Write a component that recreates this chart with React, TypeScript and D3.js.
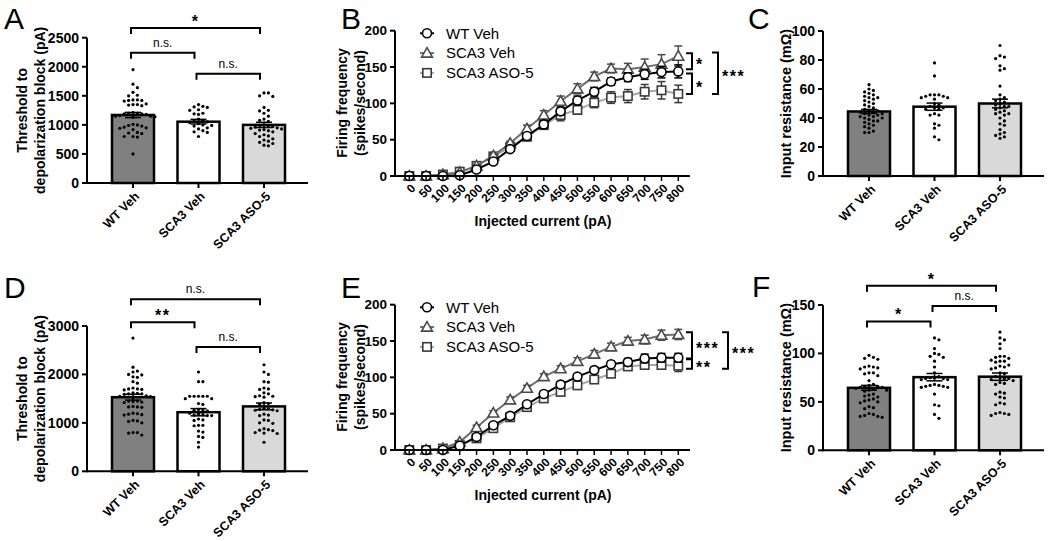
import React from 'react';
import * as d3 from 'd3';

const FONT = "'Liberation Sans', Arial, Helvetica, sans-serif";

// ---------- categories ----------
const groups = ['WT Veh', 'SCA3 Veh', 'SCA3 ASO-5'];
const barFills = ['#808080', '#ffffff', '#d9d9d9'];
const currents = ['0', '50', '100', '150', '200', '250', '300', '350', '400', '450', '500', '550', '600', '650', '700', '750', '800'];

// ---------- Panel A: threshold to depolarization block (pA) ----------
const aTicks = [0, 500, 1000, 1500, 2000, 2500];
const aMeans = [1170, 1055, 1000];
const aSem = [45, 40, 45];
const aWT = [1950, 1700, 1640, 1560, 1510, 1500, 1430, 1430, 1420, 1420, 1410, 1360, 1350, 1350, 1340, 1330, 1210, 1200, 1200, 1190, 1190, 1180, 1160, 1150, 1150, 1140, 1130, 1010, 1000, 990, 980, 960, 950, 940, 920, 870, 860, 850, 800, 800, 790, 500];
const aVeh = [1350, 1320, 1310, 1300, 1260, 1250, 1200, 1190, 1180, 1100, 1080, 1060, 1050, 1040, 1020, 1000, 990, 980, 950, 930, 900, 880, 870, 800];
const aASO = [1550, 1550, 1500, 1490, 1300, 1250, 1240, 1200, 1150, 1100, 1080, 1060, 1000, 990, 980, 970, 960, 950, 940, 930, 920, 910, 900, 880, 850, 830, 810, 800, 760, 740, 720, 700, 680, 650, 640];

// ---------- Panel C: input resistance ----------
const cTicks = [0, 20, 40, 60, 80, 100];
const cMeans = [44.5, 47.8, 50];
const cSem = [1.4, 2.5, 3];
const cWT = [63, 60, 59, 58, 57, 56, 55, 54, 54, 53, 52, 51, 50, 49, 48, 47, 46, 45, 45, 44, 44, 43, 43, 42, 42, 41, 41, 40, 40, 39, 38, 38, 37, 36, 35, 34, 33, 31, 30, 30];
const cVeh = [78, 69, 56, 56, 56, 55, 55, 54, 54, 53, 50, 49, 48, 47, 47, 46, 46, 43, 42, 42, 36, 35, 33, 27, 25];
const cASO = [90, 83, 82, 81, 76, 74, 73, 62, 56, 54, 53, 52, 51, 50, 49, 48, 48, 47, 46, 45, 44, 43, 43, 42, 40, 38, 36, 35, 32, 30, 29, 28, 27, 26];

// ---------- Panel D ----------
const dTicks = [0, 1000, 2000, 3000];
const dMeans = [1530, 1220, 1340];
const dSem = [60, 75, 70];
const dWT = [2750, 2150, 2070, 2050, 2000, 1990, 1950, 1940, 1850, 1820, 1720, 1700, 1700, 1690, 1680, 1620, 1610, 1600, 1600, 1590, 1560, 1550, 1540, 1530, 1450, 1450, 1440, 1430, 1420, 1340, 1330, 1330, 1320, 1200, 1190, 1180, 1170, 1160, 1050, 1040, 1030, 1000, 800, 800, 790, 750];
const dVeh = [2050, 1850, 1850, 1550, 1550, 1550, 1550, 1550, 1500, 1500, 1400, 1380, 1280, 1270, 1260, 1250, 1200, 1180, 1170, 1160, 1150, 1150, 1080, 1060, 1050, 950, 950, 940, 830, 810, 720, 700, 600, 500];
const dASO = [2200, 2050, 2000, 1850, 1840, 1720, 1700, 1690, 1620, 1600, 1560, 1550, 1540, 1530, 1420, 1400, 1380, 1300, 1290, 1280, 1270, 1260, 1250, 1180, 1160, 1150, 1060, 1050, 1000, 990, 880, 860, 850, 840, 800, 790, 780, 600];

// ---------- Panel F ----------
const fTicks = [0, 50, 100, 150];
const fMeans = [64.5, 75.5, 76];
const fSem = [2.5, 3.8, 3.8];
const fWT = [98, 96, 95, 94, 87, 86, 86, 85, 84, 80, 80, 79, 77, 72, 68, 67, 66, 66, 65, 65, 64, 63, 62, 62, 61, 58, 57, 56, 55, 53, 52, 51, 50, 49, 45, 44, 43, 38, 37, 36, 35, 35, 34];
const fVeh = [116, 114, 105, 100, 99, 97, 96, 92, 86, 80, 76, 75, 75, 74, 74, 73, 73, 68, 67, 67, 66, 66, 65, 65, 58, 47, 46, 37, 33];
const fASO = [122, 116, 114, 110, 105, 97, 97, 96, 95, 93, 92, 92, 91, 88, 87, 86, 85, 84, 80, 79, 76, 75, 74, 74, 73, 72, 70, 69, 68, 60, 59, 58, 55, 54, 49, 48, 47, 39, 38, 38, 37, 36];

// ---------- Panel B: firing frequency ----------
const freqTicks = [0, 50, 100, 150, 200];
const bWT = [0, 0, 0, 1, 9, 20, 37, 55, 71, 89, 104, 116, 130, 136, 140, 143, 144];
const bWTErr = [0, 0, 0, 1, 2, 2, 3, 4, 5, 5, 6, 6, 5, 6, 7, 8, 9];
const bVeh = [0, 0, 2, 5, 14, 28, 45, 65, 84, 103, 120, 137, 148, 147, 150, 154, 165];
const bVehErr = [0, 0, 1, 1, 2, 3, 3, 5, 6, 7, 7, 6, 6, 8, 11, 13, 14];
const bASO = [0, 0, 2, 6, 14, 27, 40, 54, 70, 84, 91, 101, 108, 110, 116, 118, 113];
const bASOErr = [0, 0, 1, 2, 2, 3, 3, 4, 5, 8, 6, 7, 8, 9, 10, 12, 12];

// ---------- Panel E ----------
const eWT = [0, 0, 0, 6, 18, 34, 47, 63, 77, 90, 101, 110, 118, 121, 126, 127, 127];
const eWTErr = [0, 0, 1, 1, 2, 3, 3, 3, 4, 4, 4, 4, 4, 5, 6, 6, 6];
const eVeh = [0, 0, 2, 11, 31, 51, 69, 85, 101, 112, 122, 132, 142, 150, 152, 158, 159];
const eVehErr = [0, 0, 1, 2, 3, 3, 4, 4, 4, 4, 5, 5, 5, 5, 6, 7, 7];
const eASO = [0, 0, 2, 7, 16, 30, 45, 59, 71, 80, 89, 97, 105, 115, 117, 117, 116];
const eASOErr = [0, 0, 1, 1, 2, 2, 3, 3, 3, 3, 3, 3, 4, 4, 5, 5, 8];

// ---------- significance ----------
const aBrackets = [
  { a: 0, b: 2, v: 2665, label: '*' },
  { a: 0, b: 1, v: 2240, label: 'n.s.' },
  { a: 1, b: 2, v: 1880, label: 'n.s.' },
];
const dBrackets = [
  { a: 0, b: 2, v: 3550, label: 'n.s.' },
  { a: 0, b: 1, v: 3077, label: '**' },
  { a: 1, b: 2, v: 2567, label: 'n.s.' },
];
const fBrackets = [
  { a: 0, b: 2, v: 170, label: '*' },
  { a: 1, b: 2, v: 149, label: 'n.s.' },
  { a: 0, b: 1, v: 133, label: '*' },
];
const bSig = [
  { v1: 169, v2: 147, dx: 0, label: '*' },
  { v1: 141, v2: 113, dx: 0, label: '*' },
  { v1: 170, v2: 113, dx: 26, label: '***' },
];
const eSig = [
  { v1: 162, v2: 126, dx: 0, label: '***' },
  { v1: 125, v2: 112, dx: 0, label: '**' },
  { v1: 162, v2: 112, dx: 36, label: '***' },
];

function beeswarm(vals: number[], y: (v: number) => number, cx: number, d = 4.4) {
  const pts = vals.map((v) => ({ v, py: y(v) })).sort((a, b) => a.py - b.py);
  const placed: { x: number; y: number }[] = [];
  for (const p of pts) {
    for (let k = 0; k < 60; k++) {
      const off = k === 0 ? 0 : (k % 2 === 1 ? 1 : -1) * Math.ceil(k / 2) * d;
      const x = cx + off;
      if (placed.every((q) => (q.x - x) ** 2 + (q.y - p.py) ** 2 >= (d * 0.95) ** 2)) {
        placed.push({ x, y: p.py });
        break;
      }
    }
  }
  return placed;
}

type BarProps = {
  x0: number; yBase: number; yTop: number; max: number; ticks: number[];
  means: number[]; sems: number[]; dots: number[][];
  brackets: { a: number; b: number; v: number; label: string }[];
  titles: string[]; titleXs: number[]; titleSize: number;
};

function BarPanel(p: BarProps) {
  const y = d3.scaleLinear().domain([0, p.max]).range([p.yBase, p.yTop]);
  const x = d3.scalePoint<string>().domain(groups).range([p.x0 + 46, p.x0 + 177]);
  const bw = 42;
  const axisEnd = p.x0 + 221;
  const midY = (p.yBase + p.yTop) / 2;
  return (
    <g>
      {groups.map((g, i) => {
        const cx = x(g)!;
        const pts = beeswarm(p.dots[i], y, cx);
        const top = y(p.means[i]);
        const hi = y(p.means[i] + p.sems[i]);
        const lo = y(p.means[i] - p.sems[i]);
        return (
          <g key={g}>
            <rect x={cx - bw / 2} y={top} width={bw} height={p.yBase - top} fill={barFills[i]} stroke="#000" strokeWidth={2.5} />
            {pts.map((q, j) => <circle key={j} cx={q.x} cy={q.y} r={1.6} fill="#000" />)}
            <line x1={cx} x2={cx} y1={hi} y2={lo} stroke="#000" strokeWidth={1.5} />
            <line x1={cx - 8} x2={cx + 8} y1={hi} y2={hi} stroke="#000" strokeWidth={1.5} />
            <line x1={cx - 8} x2={cx + 8} y1={lo} y2={lo} stroke="#000" strokeWidth={1.5} />
            <line x1={cx} x2={cx} y1={p.yBase} y2={p.yBase + 5} stroke="#000" strokeWidth={2} />
            <text transform={`translate(${cx + 4},${p.yBase + 11}) rotate(-45)`} textAnchor="end" dy="0.35em"
              fontFamily={FONT} fontWeight="bold" fontSize={12.5}>{g}</text>
          </g>
        );
      })}
      <line x1={p.x0} x2={axisEnd} y1={p.yBase} y2={p.yBase} stroke="#000" strokeWidth={2} />
      <line x1={p.x0} x2={p.x0} y1={p.yBase + 1} y2={p.yTop} stroke="#000" strokeWidth={2} />
      {p.ticks.map((t) => (
        <g key={t}>
          <line x1={p.x0 - 5} x2={p.x0} y1={y(t)} y2={y(t)} stroke="#000" strokeWidth={2} />
          <text x={p.x0 - 8} y={y(t)} dy="0.35em" textAnchor="end" fontFamily={FONT} fontWeight="bold" fontSize={14}>{t}</text>
        </g>
      ))}
      {p.titles.map((t, i) => (
        <text key={t} transform={`translate(${p.titleXs[i]},${midY}) rotate(-90)`} textAnchor="middle" dy="0.35em"
          fontFamily={FONT} fontWeight="bold" fontSize={p.titleSize}>{t}</text>
      ))}
      {p.brackets.map((b, i) => {
        const xa = x(groups[b.a])! - 2;
        const xb = x(groups[b.b])! - 4;
        const yy = y(b.v);
        const ns = b.label === 'n.s.';
        return (
          <g key={i}>
            <path d={`M${xa},${yy + 6}V${yy}H${xb}V${yy + 6}`} fill="none" stroke="#000" strokeWidth={2} />
            <text x={(xa + xb) / 2} y={ns ? yy - 6 : yy - 1} textAnchor="middle" fontFamily={FONT}
              fontWeight={ns ? 'normal' : 'bold'} fontSize={ns ? 12 : 16} letterSpacing={ns ? 0 : 1.5}>{b.label}</text>
          </g>
        );
      })}
    </g>
  );
}

type Series = { vals: number[]; err: number[]; line: string; mark: string; shape: 'circle' | 'triangle' | 'square'; name: string };

function Marker({ shape, cx, cy, color }: { shape: string; cx: number; cy: number; color: string }) {
  if (shape === 'circle') return <circle cx={cx} cy={cy} r={4.5} fill="#fff" stroke={color} strokeWidth={1.6} />;
  if (shape === 'square') return <rect x={cx - 4.2} y={cy - 4.2} width={8.4} height={8.4} fill="#fff" stroke={color} strokeWidth={1.6} />;
  const s = 5.4;
  return <path d={`M${cx},${cy - s}L${cx + s},${cy + s * 0.75}L${cx - s},${cy + s * 0.75}Z`} fill="#fff" stroke={color} strokeWidth={1.6} />;
}

function LinePanel({ oy, series, sig }: { oy: number; series: Series[]; sig: { v1: number; v2: number; dx: number; label: string }[] }) {
  const y = d3.scaleLinear().domain([0, 200]).range([176 + oy, 30.7 + oy]);
  const x = d3.scalePoint<string>().domain(currents).range([409.3, 678.3]);
  const x0 = 395;
  const line = d3.line<number>().x((_, i) => x(currents[i])!).y((v) => y(v));
  const drawOrder = [2, 1, 0];
  return (
    <g>
      {drawOrder.map((si) => {
        const s = series[si];
        return (
          <g key={s.name}>
            <path d={line(s.vals)!} fill="none" stroke={s.line} strokeWidth={2} />
            {s.vals.map((v, i) => {
              const cx = x(currents[i])!;
              const e = s.err[i];
              if (e <= 0) return null;
              const hi = y(v + e), lo = y(v - e);
              return (
                <g key={i}>
                  <line x1={cx} x2={cx} y1={hi} y2={lo} stroke={s.mark} strokeWidth={1.5} />
                  <line x1={cx - 4} x2={cx + 4} y1={hi} y2={hi} stroke={s.mark} strokeWidth={1.5} />
                  <line x1={cx - 4} x2={cx + 4} y1={lo} y2={lo} stroke={s.mark} strokeWidth={1.5} />
                </g>
              );
            })}
            {s.vals.map((v, i) => <Marker key={i} shape={s.shape} cx={x(currents[i])!} cy={y(v)} color={s.mark} />)}
          </g>
        );
      })}
      <line x1={x0} x2={690} y1={176 + oy} y2={176 + oy} stroke="#000" strokeWidth={2} />
      <line x1={x0} x2={x0} y1={177 + oy} y2={30.7 + oy} stroke="#000" strokeWidth={2} />
      {freqTicks.map((t) => (
        <g key={t}>
          <line x1={x0 - 5} x2={x0} y1={y(t)} y2={y(t)} stroke="#000" strokeWidth={2} />
          <text x={x0 - 8} y={y(t)} dy="0.35em" textAnchor="end" fontFamily={FONT} fontWeight="bold" fontSize={13.5}>{t}</text>
        </g>
      ))}
      {currents.map((c) => (
        <g key={c}>
          <line x1={x(c)!} x2={x(c)!} y1={176 + oy} y2={181 + oy} stroke="#000" strokeWidth={1.5} />
          <text transform={`translate(${x(c)! + 4},${186 + oy}) rotate(-45)`} textAnchor="end" dy="0.35em"
            fontFamily={FONT} fontWeight="bold" fontSize={12}>{c}</text>
        </g>
      ))}
      <text x={543} y={226 + oy} textAnchor="middle" fontFamily={FONT} fontWeight="bold" fontSize={14}>Injected current (pA)</text>
      {['Firing frequency', '(spikes/second)'].map((t, i) => (
        <text key={t} transform={`translate(${342 + i * 18},${103 + oy}) rotate(-90)`} textAnchor="middle" dy="0.35em"
          fontFamily={FONT} fontWeight="bold" fontSize={14}>{t}</text>
      ))}
      {series.map((s, i) => {
        const ly = 33.3 + oy + i * 19.8;
        return (
          <g key={s.name}>
            <line x1={420} x2={434} y1={ly} y2={ly} stroke={s.line} strokeWidth={2} />
            <Marker shape={s.shape} cx={427} cy={ly} color={s.mark} />
            <text x={446} y={ly} dy="0.35em" fontFamily={FONT} fontSize={15}>{s.name}</text>
          </g>
        );
      })}
      {sig.map((b, i) => {
        const bx = 692 + b.dx;
        const y1 = y(b.v1), y2 = y(b.v2);
        return (
          <g key={i}>
            <path d={`M${bx - 6},${y1}H${bx}V${y2}H${bx - 6}`} fill="none" stroke="#000" strokeWidth={2} />
            <text x={bx + 4} y={(y1 + y2) / 2 + 9} fontFamily={FONT} fontWeight="bold" fontSize={16} letterSpacing={1.5}>{b.label}</text>
          </g>
        );
      })}
    </g>
  );
}

const letterStyle = { fontFamily: FONT, fontSize: 30, fontWeight: 'normal' as const };

export default function App() {
  const bSeries: Series[] = [
    { vals: bWT, err: bWTErr, line: '#000000', mark: '#000000', shape: 'circle', name: 'WT Veh' },
    { vals: bVeh, err: bVehErr, line: '#6e6e6e', mark: '#4a4a4a', shape: 'triangle', name: 'SCA3 Veh' },
    { vals: bASO, err: bASOErr, line: '#a6a6a6', mark: '#3a3a3a', shape: 'square', name: 'SCA3 ASO-5' },
  ];
  const eSeries: Series[] = [
    { vals: eWT, err: eWTErr, line: '#000000', mark: '#000000', shape: 'circle', name: 'WT Veh' },
    { vals: eVeh, err: eVehErr, line: '#6e6e6e', mark: '#4a4a4a', shape: 'triangle', name: 'SCA3 Veh' },
    { vals: eASO, err: eASOErr, line: '#a6a6a6', mark: '#3a3a3a', shape: 'square', name: 'SCA3 ASO-5' },
  ];
  return (
    <svg width={1050} height={541} style={{ position: 'absolute', left: 0, top: 0, background: '#fff' }}>
      <rect width={1050} height={541} fill="#fff" />
      <BarPanel x0={87} yBase={183} yTop={37.7} max={2500} ticks={aTicks} means={aMeans} sems={aSem}
        dots={[aWT, aVeh, aASO]} brackets={aBrackets} titles={['Threshold to', 'depolarization block (pA)']} titleXs={[22, 40]} titleSize={14} />
      <BarPanel x0={823} yBase={176} yTop={31} max={100} ticks={cTicks} means={cMeans} sems={cSem}
        dots={[cWT, cVeh, cASO]} brackets={[]} titles={['Input resistance (mΩ)']} titleXs={[786]} titleSize={14.5} />
      <BarPanel x0={87} yBase={471.3} yTop={326} max={3000} ticks={dTicks} means={dMeans} sems={dSem}
        dots={[dWT, dVeh, dASO]} brackets={dBrackets} titles={['Threshold to', 'depolarization block (pA)']} titleXs={[22, 40]} titleSize={14} />
      <BarPanel x0={823} yBase={450.3} yTop={305} max={150} ticks={fTicks} means={fMeans} sems={fSem}
        dots={[fWT, fVeh, fASO]} brackets={fBrackets} titles={['Input resistance (mΩ)']} titleXs={[786]} titleSize={14.5} />
      <LinePanel oy={0} series={bSeries} sig={bSig} />
      <LinePanel oy={274} series={eSeries} sig={eSig} />
      <text x={4} y={29} {...letterStyle}>A</text>
      <text x={341} y={29} {...letterStyle}>B</text>
      <text x={748} y={29} {...letterStyle}>C</text>
      <text x={4} y={298} {...letterStyle}>D</text>
      <text x={341} y={298} {...letterStyle}>E</text>
      <text x={752} y={297} {...letterStyle}>F</text>
    </svg>
  );
}
